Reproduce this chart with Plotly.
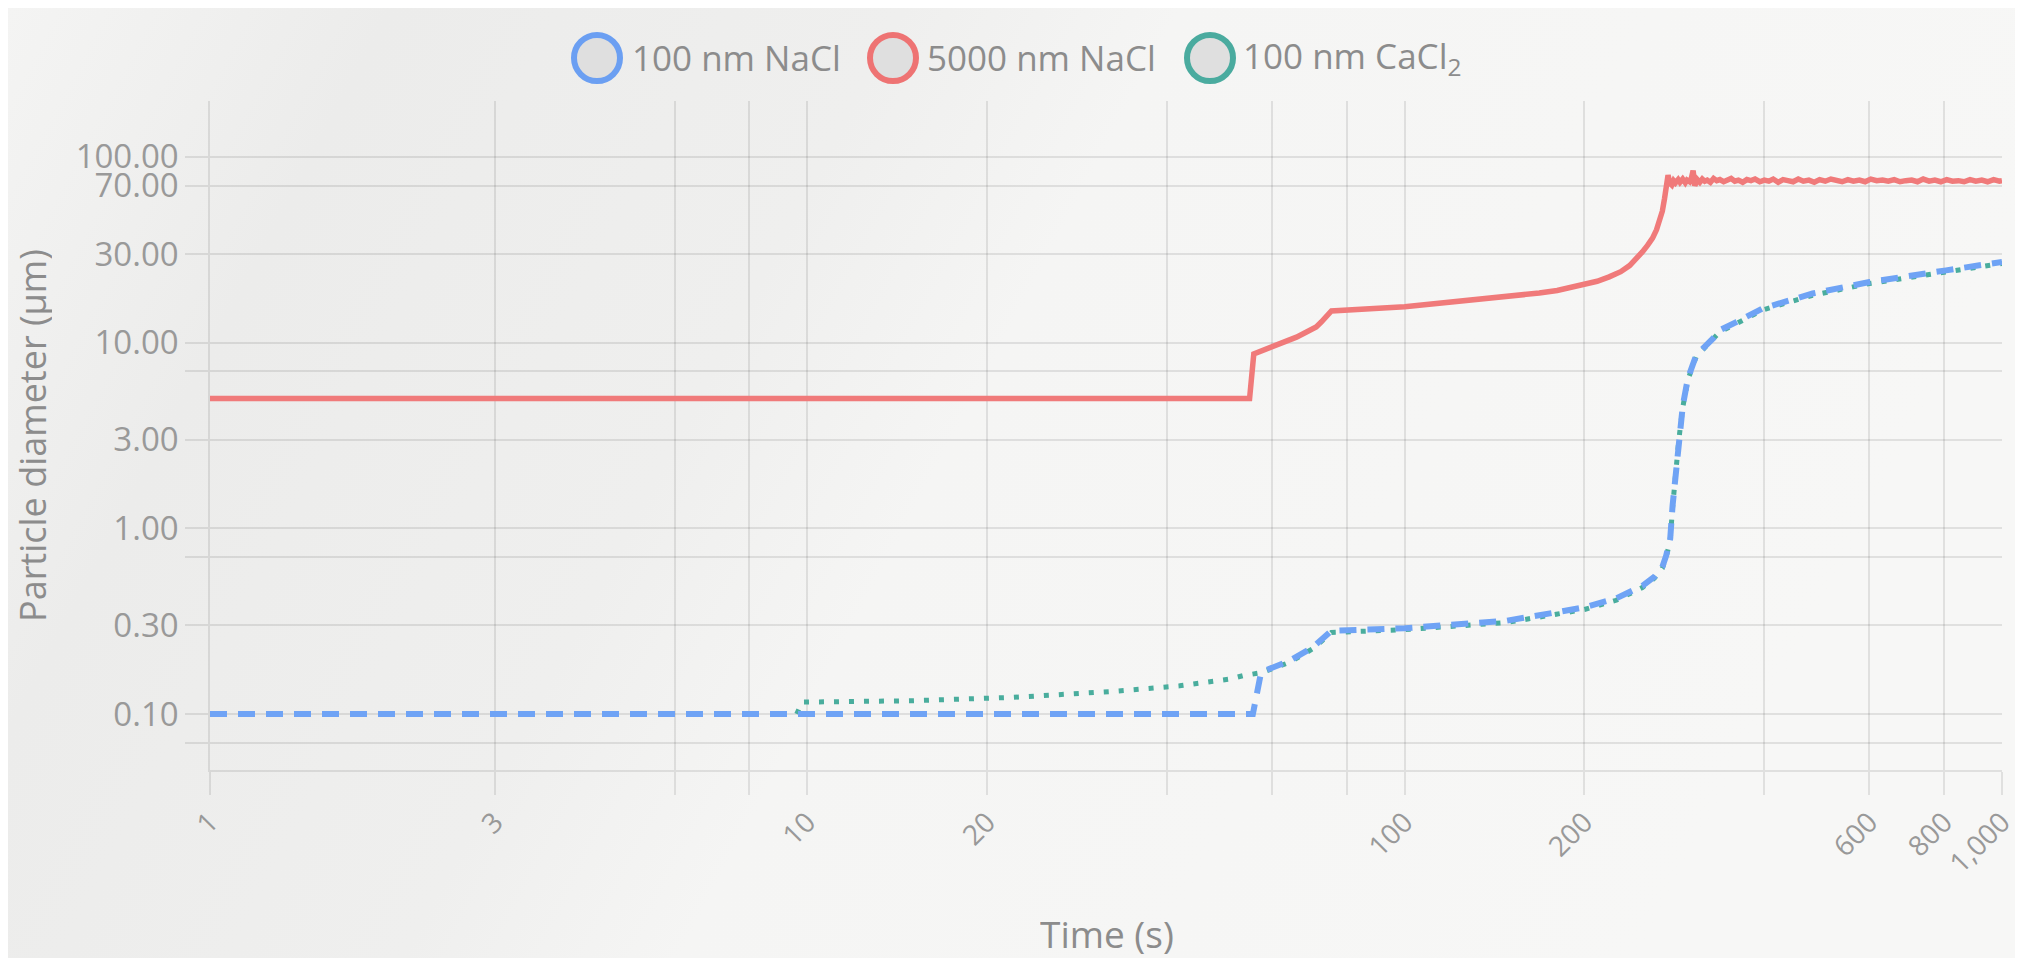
import base64
import plotly.graph_objects as go

# ---------------- data ----------------
series_names = ["100 nm NaCl", "5000 nm NaCl", "100 nm CaCl<sub>2</sub>"]

nacl100_t = [1, 55.7, 57.5, 64.2, 70.2, 75.4, 100, 114.4, 148, 179.4, 200, 226, 250, 262, 270,
             274, 278.3, 280.9, 284.1, 287.7, 292.2, 297.9, 307.6, 328, 336.7, 359, 397.8, 482,
             600, 806, 1000]
nacl100_d = [0.1, 0.1, 0.168, 0.194, 0.229, 0.281, 0.29, 0.299, 0.318, 0.353, 0.376, 0.42, 0.49,
             0.55, 0.62, 0.713, 0.878, 1.33, 2.01, 3.04, 4.59, 6.4, 8.54, 10.5, 11.65, 12.9, 15.3,
             18.4, 21.2, 24.5, 27.2]

nacl5000_t = [1, 55.0, 55.9, 58, 60, 63, 65.9, 68.5, 71.1, 72.5, 73.9, 75.4, 100, 142, 168, 180,
              190, 200, 210, 220, 230, 238, 245, 250, 255, 260, 264, 267, 270, 272.3, 274, 276,
              278, 280, 282, 284, 287, 289, 292, 295, 297, 300, 302, 304, 306, 309, 312, 315, 318,
              321, 325, 329, 333, 337, 342, 347, 352, 357, 362, 368, 374, 380, 386, 393, 400, 407,
              414, 422, 430, 438, 447, 456, 465, 475, 485, 495, 506, 517, 528, 540, 552, 564, 577,
              590, 603, 617, 631, 645, 660, 675, 690, 706, 722, 738, 755, 772, 790, 808, 826, 845,
              864, 884, 904, 925, 946, 968, 990, 1000]
nacl5000_d = [5.0, 5.0, 8.7, 9.1, 9.5, 10.05, 10.7, 11.4, 12.15, 12.9, 13.75, 14.8, 15.6, 17.4,
              18.5, 19.1, 19.8, 20.5, 21.4, 22.6, 24.1, 26.0, 28.4, 30.8, 33.4, 36.5, 40.5, 44.7,
              51.0, 59.7, 67.0, 79.8,
              72.0, 70.5, 74.5, 72.5, 75.5, 73.0, 76.0, 72.5, 75.0, 73.5, 77.0, 84.5, 70.0, 75.5,
              73.0, 76.0, 74.0, 75.0, 73.0, 76.5, 74.5, 75.5, 73.5, 75.0, 76.5, 74.0, 75.0, 73.0,
              75.5, 74.5, 76.0, 73.5, 75.0, 74.0, 76.0, 73.0, 75.5, 74.5, 73.5, 76.0, 74.0, 75.0,
              73.0, 75.5, 74.0, 76.0, 74.5, 73.5, 75.5, 74.0, 75.0, 73.5, 76.0, 74.5, 75.0, 74.0,
              75.5, 73.5, 74.5, 75.0, 73.5, 76.0, 74.0, 75.0, 73.5, 75.5, 74.0, 74.5, 73.5, 75.5,
              74.0, 75.0, 73.5, 75.5, 74.0, 74.5]

cacl100_t = [9.6, 9.8, 15.0, 22.1, 32.5, 42.0, 50.9, 53.6, 57.5, 64.2, 70.2, 75.4, 100, 114.4, 148,
             179.4, 200, 226, 250, 262, 270, 274, 278.3, 280.9, 284.1, 287.7, 292.2, 297.9, 307.6,
             328, 336.7, 359, 397.8, 482, 600, 806, 1000]
cacl100_d = [0.1, 0.116, 0.118, 0.123, 0.1325, 0.142, 0.1544, 0.161, 0.167, 0.19, 0.225, 0.275,
             0.285, 0.293, 0.311, 0.345, 0.366, 0.41, 0.48, 0.54, 0.61, 0.70, 0.86, 1.3, 1.97, 3.0,
             4.5, 6.3, 8.4, 10.3, 11.4, 12.65, 15.0, 18.0, 20.8, 24.0, 26.7]

x_tickvals = [1, 3, 6, 8, 10, 20, 40, 60, 80, 100, 200, 400, 600, 800, 1000]
x_ticktext = ["1", "3", "", "", "10", "20", "", "", "", "100", "200", "", "600", "800", "1,000"]
y_tickvals = [0.07, 0.1, 0.3, 0.7, 1, 3, 7, 10, 30, 70, 100]
y_ticktext = ["", "0.10", "0.30", "", "1.00", "3.00", "", "10.00", "30.00", "70.00", "100.00"]

# ---------------- styling ----------------
W, H = 2007, 950          # page has an 8px body margin
L, R, T, B = 202, 13, 93, 188
PW, PH = W - L - R, H - T - B

BLUE = "#6fa3f5"
RED = "#f07a7a"
TEAL = "#49ad9d"
GRID = "rgba(0,0,0,0.09)"
TXT = "#8c8c8c"
FONT = "Open Sans"


def px_x(p):
    return (p - L) / PW


def px_y(p):
    return (H - B - p) / PH


fig = go.Figure()
# drawing order: teal (bottom), red, blue (top)
fig.add_trace(go.Scatter(x=cacl100_t, y=cacl100_d, mode="lines", name=series_names[2],
                         line=dict(color=TEAL, width=5, dash="5px,10px"), showlegend=False))
fig.add_trace(go.Scatter(x=nacl5000_t, y=nacl5000_d, mode="lines", name=series_names[1],
                         line=dict(color=RED, width=5.5), showlegend=False))
fig.add_trace(go.Scatter(x=nacl100_t, y=nacl100_d, mode="lines", name=series_names[0],
                         line=dict(color=BLUE, width=6, dash="17px,11px"), showlegend=False))

# background gradient
svg = ('<svg xmlns="http://www.w3.org/2000/svg" width="400" height="200" preserveAspectRatio="none">'
       '<defs><linearGradient id="g" x1="0" y1="0" x2="1" y2="0.25">'
       '<stop offset="0" stop-color="#f4f4f3"/><stop offset="0.18" stop-color="#ececeb"/>'
       '<stop offset="0.42" stop-color="#efefee"/><stop offset="0.55" stop-color="#f5f5f4"/>'
       '<stop offset="1" stop-color="#f7f7f6"/></linearGradient></defs>'
       '<rect width="400" height="200" fill="url(#g)"/></svg>')
src = "data:image/svg+xml;base64," + base64.b64encode(svg.encode()).decode()

shapes = []
annotations = []
legend_circles_px = [589, 885, 1202]
legend_text_px = [622, 917, 1233]
legend_colors = ["#6b9ff2", "#ee7373", "#4aab9f"]
legend_y = 50
for cx, tx, col, name in zip(legend_circles_px, legend_text_px, legend_colors, series_names):
    shapes.append(dict(type="circle", xref="paper", yref="paper", xsizemode="pixel",
                       ysizemode="pixel", xanchor=px_x(cx), yanchor=px_y(legend_y),
                       x0=-23, x1=23, y0=-23, y1=23, fillcolor="#dfdfdf",
                       line=dict(color=col, width=6)))
    annotations.append(dict(text=name, xref="paper", yref="paper", x=px_x(tx), y=px_y(legend_y),
                            xanchor="left", yanchor="middle", showarrow=False,
                            font=dict(family=FONT, size=35, color=TXT)))

annotations.append(dict(text="Time (s)", xref="paper", yref="paper", x=px_x(1099), y=px_y(925),
                        xanchor="center", yanchor="middle", showarrow=False, height=42,
                        font=dict(family=FONT, size=37, color=TXT)))
annotations.append(dict(text="Particle diameter (µm)", xref="paper", yref="paper", x=px_x(24),
                        y=px_y(428), xanchor="center", yanchor="middle", showarrow=False,
                        textangle=-90, height=40, font=dict(family=FONT, size=36, color=TXT)))

fig.update_layout(
    width=W, height=H,
    margin=dict(l=L, r=R, t=T, b=B, pad=0),
    paper_bgcolor="#f3f3f2",
    plot_bgcolor="rgba(0,0,0,0)",
    showlegend=False,
    shapes=shapes,
    annotations=annotations,
    images=[dict(source=src, xref="paper", yref="paper", x=px_x(0), y=px_y(0),
                 sizex=px_x(W) - px_x(0), sizey=px_y(0) - px_y(H), sizing="stretch",
                 xanchor="left", yanchor="top", layer="below")],
    xaxis=dict(type="log", range=[0, 3], tickvals=x_tickvals, ticktext=x_ticktext,
               tickangle=-45, showgrid=True, gridcolor=GRID, gridwidth=1.5,
               showline=True, linecolor=GRID, linewidth=1.5, automargin=False,
               ticks="outside", ticklen=23, tickcolor=GRID, tickwidth=1.5,
               ticklabelstandoff=0, ticklabeloverflow="allow",
               tickfont=dict(family=FONT, size=28, color="#999999"), zeroline=False),
    yaxis=dict(type="log", range=[-1.30103, 2.30103], tickvals=y_tickvals, ticktext=y_ticktext,
               showgrid=True, gridcolor=GRID, gridwidth=1.5,
               showline=True, linecolor=GRID, linewidth=1.5, automargin=False,
               ticks="outside", ticklen=23, tickcolor=GRID, tickwidth=1.5,
               ticklabelstandoff=0,
               tickfont=dict(family=FONT, size=33, color="#999999"), zeroline=False),
)

fig.write_html("out.html")
